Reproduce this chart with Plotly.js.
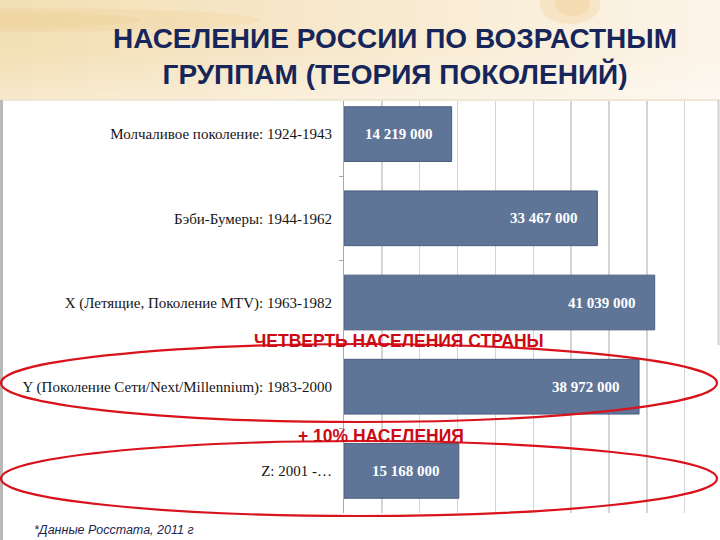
<!DOCTYPE html>
<html>
<head>
<meta charset="utf-8">
<script src="https://cdn.plot.ly/plotly-3.0.1.min.js"></script>
<style>html,body{margin:0;padding:0;background:#fff;}#chart{width:720px;height:540px;}</style>
</head>
<body>
<div id="chart"></div>
<script>
// ---- data ----
const categories = [
  "Молчаливое поколение: 1924-1943",
  "Бэби-Бумеры: 1944-1962",
  "X (Летящие, Поколение MTV): 1963-1982",
  "Y (Поколение Сети/Next/Millennium): 1983-2000",
  "Z: 2001 -…"
];
const population = [14219000, 33467000, 41039000, 38972000, 15168000];
const titleLines = ["НАСЕЛЕНИЕ РОССИИ ПО ВОЗРАСТНЫМ", "ГРУППАМ (ТЕОРИЯ ПОКОЛЕНИЙ)"];
const noteQuarter = "ЧЕТВЕРТЬ НАСЕЛЕНИЯ СТРАНЫ";
const noteTen = "+ 10% НАСЕЛЕНИЯ";
const sourceNote = "*Данные Росстата, 2011 г";

// ---- geometry helpers (pixel -> paper) ----
const W = 720, H = 540, L = 344, R = 718, T = 92, B = 513;
const px = x => (x - L) / (R - L);
const py = y => (B - y) / (B - T);

function fmt(v) { return String(v).replace(/\B(?=(\d{3})+(?!\d))/g, " "); }

function hexMix(a, b, t) {
  const pa = [1,3,5].map(i => parseInt(a.substr(i,2),16));
  const pb = [1,3,5].map(i => parseInt(b.substr(i,2),16));
  return "rgb(" + pa.map((v,i) => Math.round(v + (pb[i]-v)*t)).join(",") + ")";
}

const shapes = [];
// header background (horizontal gradient via columns)
const cols = 24;
for (let i = 0; i < cols; i++) {
  shapes.push({type:"rect", xref:"paper", yref:"paper", layer:"above",
    x0: px(i*W/cols), x1: px((i+1)*W/cols + 1), y0: py(100), y1: py(0),
    fillcolor: hexMix("#f3dfb4", "#fcf4e8", i/(cols-1)), line:{width:0}});
}
// vertical lightening toward bottom of header
const rows = 10;
for (let j = 0; j < rows; j++) {
  shapes.push({type:"rect", xref:"paper", yref:"paper", layer:"above",
    x0: px(0), x1: px(W), y0: py(100 - j*5), y1: py(100 - (j+1)*5),
    fillcolor:"#ffffff", opacity: 0.3*(1 - j/rows), line:{width:0}});
}
// soft golden streak top-left
shapes.push({type:"circle", xref:"paper", yref:"paper", layer:"above",
  x0: px(-220), x1: px(260), y0: py(32), y1: py(8),
  fillcolor:"#edd199", opacity:0.3, line:{width:0}});
shapes.push({type:"circle", xref:"paper", yref:"paper", layer:"above",
  x0: px(-120), x1: px(140), y0: py(28), y1: py(12),
  fillcolor:"#eccb8c", opacity:0.25, line:{width:0}});
// subtle warm swirl top-right
shapes.push({type:"circle", xref:"paper", yref:"paper", layer:"above",
  x0: px(540), x1: px(600), y0: py(24), y1: py(-14),
  fillcolor:"#f0c27c", opacity:0.25, line:{width:0}});
shapes.push({type:"circle", xref:"paper", yref:"paper", layer:"above",
  x0: px(555), x1: px(590), y0: py(16), y1: py(-8),
  fillcolor:"#eeb768", opacity:0.2, line:{width:0}});
// header bottom shadow
shapes.push({type:"line", xref:"paper", yref:"paper", layer:"above",
  x0: px(0), x1: px(W), y0: py(100), y1: py(100), line:{color:"#efe6d6", width:2}});
// slide borders
shapes.push({type:"line", xref:"paper", yref:"paper", layer:"above",
  x0: px(1.5), x1: px(1.5), y0: py(100), y1: py(540), line:{color:"#b9b9b9", width:3}});
shapes.push({type:"line", xref:"paper", yref:"paper", layer:"above",
  x0: px(718.5), x1: px(718.5), y0: py(100), y1: py(345), line:{color:"#cfcfcf", width:2}});
// red ellipses
shapes.push({type:"circle", xref:"paper", yref:"paper", layer:"above",
  x0: px(1), x1: px(717), y0: py(422), y1: py(344),
  line:{color:"#d9121c", width:2.2}});
shapes.push({type:"circle", xref:"paper", yref:"paper", layer:"above",
  x0: px(1), x1: px(717), y0: py(516), y1: py(441),
  line:{color:"#d9121c", width:2.2}});

const annotations = [];
// value labels inside bars
for (let i = 0; i < categories.length; i++) {
  annotations.push({x: population[i], y: categories[i], xref:"x", yref:"y",
    text: "<b>" + fmt(population[i]) + "</b>", showarrow:false,
    xanchor:"right", xshift:-17, yanchor:"middle",
    font:{family:"Liberation Serif, Times New Roman, serif", size:15, color:"#ffffff"}});
}
annotations.push({xref:"paper", yref:"paper", x: px(399), y: py(341),
  text:"<b>" + noteQuarter + "</b>", showarrow:false, xanchor:"center", yanchor:"middle",
  font:{family:"Liberation Sans, Arial, sans-serif", size:17.5, color:"#cc0a14"}});
annotations.push({xref:"paper", yref:"paper", x: px(381), y: py(436),
  text:"<b>" + noteTen + "</b>", showarrow:false, xanchor:"center", yanchor:"middle",
  font:{family:"Liberation Sans, Arial, sans-serif", size:17.5, color:"#cc0a14"}});
annotations.push({xref:"paper", yref:"paper", x: px(32), y: py(530),
  text:"<i>" + sourceNote + "</i>", showarrow:false, xanchor:"left", yanchor:"middle",
  font:{family:"Liberation Sans, Arial, sans-serif", size:12.5, color:"#1b2650"}});

const trace = {
  type:"bar", orientation:"h",
  x: population, y: categories,
  marker:{color:"#5f7597", line:{color:"#4b5e7e", width:1}},
  hoverinfo:"skip"
};

const layout = {
  width: W, height: H, autosize:false,
  margin:{l:L, r:W-R, t:T, b:H-B, pad:0},
  paper_bgcolor:"#ffffff", plot_bgcolor:"#ffffff",
  showlegend:false,
  bargap:0.35,
  title:{
    text:"<b>" + titleLines.join("<br>") + "</b>",
    font:{family:"Liberation Sans, Arial, sans-serif", size:28, color:"#17265a"},
    xref:"container", x: 395/W, xanchor:"center",
    yref:"container", y: 1 - 48/H, yanchor:"middle"
  },
  xaxis:{range:[0, 49.4e6], dtick:5e6, showgrid:true, gridcolor:"#d4d4d4", gridwidth:1.5,
    showticklabels:false, zeroline:false, showline:false, ticks:"", fixedrange:true},
  yaxis:{type:"category", autorange:"reversed", showline:true, linecolor:"#a8a8a8", linewidth:1,
    ticks:"outside", tickson:"boundaries", ticklen:4, tickcolor:"#a8a8a8",
    ticklabelstandoff:8, showgrid:false, zeroline:false, fixedrange:true,
    tickfont:{family:"Liberation Serif, Times New Roman, serif", size:15, color:"#151515"}},
  shapes: shapes,
  annotations: annotations
};

Plotly.newPlot("chart", [trace], layout, {displayModeBar:false, staticPlot:true});
</script>
</body>
</html>
